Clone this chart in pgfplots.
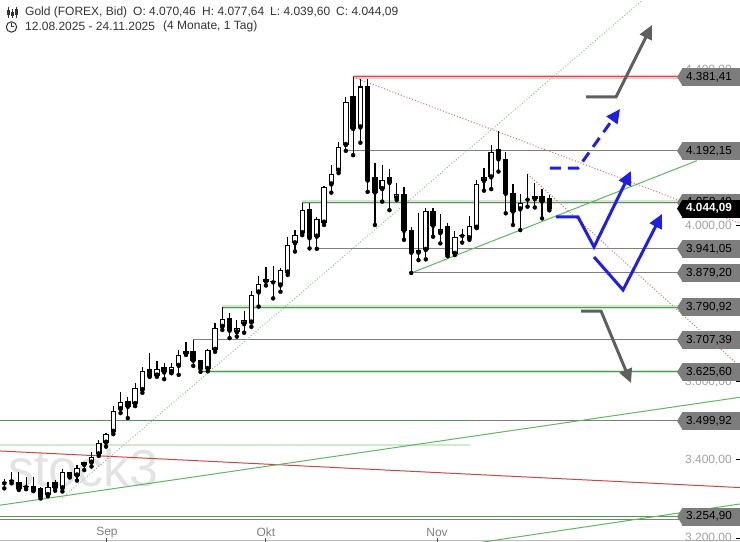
\documentclass[border=0pt]{standalone}
\usepackage{pgfplots}
\pgfplotsset{compat=1.18}
\usepackage{pgfplotstable}
\usetikzlibrary{arrows.meta}
\usepackage{fontspec}
\setmainfont{Liberation Sans}
\definecolor{lgray}{HTML}{7F7F7F}
\definecolor{labgray}{HTML}{7D7D7D}
\definecolor{tickgray}{HTML}{A0A0A0}
\definecolor{hred}{HTML}{E04848}
\definecolor{hredhalo}{HTML}{F6C4C4}
\definecolor{hgreen}{HTML}{4E9A4E}
\definecolor{hgreenhalo}{HTML}{CFE9CF}
\definecolor{dgreen}{HTML}{5DB85D}
\definecolor{dred}{HTML}{C84848}
\definecolor{dotgreen}{HTML}{8FBF8F}
\definecolor{dotred}{HTML}{CC6E6E}
\definecolor{arrgray}{HTML}{5F5F5F}
\definecolor{arrblue}{HTML}{1E1EE6}
\definecolor{hdr}{HTML}{333333}
\definecolor{wm}{HTML}{E3E3E3}

\pgfplotstableread{
i o h l c
0 3340 3350 3327 3341
1 3345 3368 3340 3346
2 3343 3370 3323 3325
3 3330 3355 3325 3331
4 3333 3355 3320 3321
5 3327 3331 3301 3304
6 3310 3344 3307 3331
7 3344 3348 3321 3327
8 3327 3376 3319 3368
9 3368 3370 3355 3356
10 3360 3387 3347 3380
11 3387 3395 3374 3394
12 3393 3420 3383 3407
13 3414 3451 3410 3443
14 3444 3470 3434 3466
15 3472 3538 3466 3525
16 3530 3575 3520 3548
17 3551 3561 3507 3536
18 3543 3596 3538 3584
19 3579 3639 3572 3628
20 3632 3675 3613 3614
21 3616 3654 3613 3632
22 3637 3649 3607 3624
23 3625 3649 3622 3639
24 3641 3682 3618 3668
25 3671 3703 3669 3679
26 3679 3707.39 3641 3654
27 3656 3657 3625.6 3633
28 3633 3684 3627 3682
29 3682 3750 3677 3737
30 3741 3790.92 3733 3760
31 3763 3777 3712 3731
32 3727 3759 3716 3737
33 3748 3782 3726 3758
34 3752 3833 3741 3823
35 3829 3872 3793 3850
36 3857 3895 3847 3863
37 3856 3897 3814 3855
38 3847 3891 3831 3887
39 3880 3970 3874 3951
40 3955 3989 3934 3976
41 3981 4059.4 3976 4040
42 4043 4059 3942 3968
43 3972 4022 3941.05 4017
44 4008 4103 4002 4100
45 4106 4156 4085 4132
46 4141 4214 4135 4201
47 4207 4331 4192.15 4317
48 4333 4381.41 4181 4248
49 4252 4376 4213 4357
50 4357 4375 4087 4116
51 4126 4162 4002 4085
52 4094 4156 4062 4117
53 4126 4145 4040 4110
54 4070 4109 4066 4081
55 4081 4099 3964 3987
56 3989 3996 3879.2 3931
57 3931 4032 3912 3938
58 3938 4045 3914 4038
59 4038 4045 3972 4000
60 3981 4030 3955 3991
61 4000 4006 3922 3924
62 3928 3987 3925 3971
63 3974 3991 3957 3975
64 3968 4025 3964 3999
65 3995 4117 3994 4106
66 4115 4147 4090 4124
67 4124 4207 4094 4190
68 4196 4244 4139 4170
69 4171 4190 4032 4082
70 4083 4107 4002 4036
71 4042 4081 3989 4058
72 4067 4133 4049 4069
73 4076 4109 4047 4068
74 4076 4094 4019 4062
75 4070.46 4077.64 4039.60 4044.09
}\candles

\newcommand{\lab}{\fontsize{11.7}{14}\selectfont}
\newcommand{\tk}{\fontsize{12}{14}\selectfont}
\newcommand{\pricelabel}[4]{%
  \fill[#3] (axis cs:93.3,#1) ++(0.3pt,9pt) -- ++(-5.6pt,-9pt) -- ++(5.6pt,-9pt) -- cycle;
  \node[anchor=west, fill=#3, text=#4, minimum height=18pt, text width=56pt, inner xsep=4pt, inner ysep=0pt, align=left, font=\lab] at (axis cs:93.26,#1) {#2};
}
\newcommand{\ytick}[2]{%
  \node[anchor=east, text=tickgray, inner sep=0, font=\tk] at (axis cs:100.14,#1) {#2};
  \draw[black, line width=0.8pt] (axis cs:100.69,#1) -- (axis cs:101.3,#1);
}
\newcommand{\xtick}[2]{%
  \node[text=black!50, inner sep=0, font=\tk] at (axis cs:#1,3214) {#2};
  \draw[black!70, line width=1pt] (axis cs:#1,3189.6) -- (axis cs:#1,3199.8);
}

\begin{document}
\begin{tikzpicture}
\begin{axis}[
  width=740pt, height=542pt, scale only axis,
  xmin=-0.5917, xmax=101.236, ymin=3189.6, ymax=4578.7,
  hide axis, clip=true,
]
% watermark
\node[anchor=base west, text=wm, inner sep=0, font=\fontsize{52}{60}\selectfont] at (rel axis cs:0.0108,0.1015) {stock3};

% horizontal levels
\addplot[hredhalo, line width=3.5pt] coordinates {(48,4381.41) (101.3,4381.41)};
\addplot[hred, line width=1pt] coordinates {(48,4381.41) (101.3,4381.41)};
\addplot[lgray, line width=1pt] coordinates {(47,4192.15) (101.3,4192.15)};
\addplot[hgreenhalo, line width=3.5pt] coordinates {(41,4061) (101.3,4061)};
\addplot[lgray, line width=1pt] coordinates {(41,4059.4) (101.3,4059.4)};
\addplot[lgray, line width=1pt] coordinates {(43,3941.05) (101.3,3941.05)};
\addplot[lgray, line width=1pt] coordinates {(56,3879.2) (101.3,3879.2)};
\addplot[hgreenhalo, line width=3.5pt] coordinates {(30,3792) (101.3,3792)};
\addplot[hgreen, line width=1pt] coordinates {(30,3790.92) (101.3,3790.92)};
\addplot[lgray, line width=1pt] coordinates {(26,3707.39) (101.3,3707.39)};
\addplot[hgreenhalo, line width=3.5pt] coordinates {(27,3627) (101.3,3627)};
\addplot[hgreen, line width=1pt] coordinates {(27,3625.6) (101.3,3625.6)};
\addplot[lgray, line width=1pt] coordinates {(-1,3499.92) (101.3,3499.92)};
\addplot[hgreen, line width=1pt] coordinates {(-1,3499.92) (64.1,3499.92)};
\addplot[hgreenhalo, line width=2pt] coordinates {(-1,3438) (64.1,3438)};
\addplot[hgreen, line width=1pt] coordinates {(-1,3254.9) (101.3,3254.9)};
\addplot[lgray, line width=1pt] coordinates {(-1,3248) (101.3,3248)};
\addplot[black!25, line width=1pt] coordinates {(-1,3193.2) (101.3,3193.2)};

% diagonal lines
\addplot[dred, line width=1pt] coordinates {(-0.5917,3422.9) (101.236,3329.1)};
\addplot[dgreen, line width=1pt] coordinates {(-0.5917,3283.9) (101.236,3560.5)};
\addplot[dgreen, line width=1pt] coordinates {(60,3173.2) (101.236,3287.1)};
\addplot[dgreen, line width=1pt] coordinates {(56,3879.2) (95.3,4166.8)};
\addplot[dotgreen, line width=1pt, dash pattern=on 1pt off 2pt] coordinates {(7.94,3302.4) (87.85,4578.7)};
\addplot[dotred, line width=1pt, dash pattern=on 1pt off 2pt] coordinates {(48,4381.41) (101.236,4006.4)};
\addplot[dotred, line width=1pt, dash pattern=on 1pt off 2pt] coordinates {(72,4132.8) (101.236,3638.9)};

% candles: wicks
\addplot[only marks, mark=none, error bars/.cd, y dir=plus, y explicit, error mark=none,
  error bar style={black, line width=1.2pt}]
  table[x=i, y=l, y error expr=\thisrow{h}-\thisrow{l}] {\candles};
% bodies
\addplot[only marks, mark=none, error bars/.cd, y dir=plus, y explicit, error mark=none,
  error bar style={black, line width=5.5pt}]
  table[x=i, y expr={min(\thisrow{o},\thisrow{c})}, y error expr={max(abs(\thisrow{c}-\thisrow{o}),2.5)}] {\candles};
\addplot[only marks, mark=none, restrict expr to domain={\thisrow{c}-\thisrow{o}}{5.5:100000},
  error bars/.cd, y dir=plus, y explicit, error mark=none,
  error bar style={white, line width=3.3pt}]
  table[x=i, y expr={\thisrow{o}+2.6}, y error expr={\thisrow{c}-\thisrow{o}-5.2}] {\candles};

% arrows
\addplot[arrgray, line width=3pt, -{Triangle[length=14pt,width=13pt]}] coordinates {(80.05,4330.1) (84.18,4330.1) (89.13,4514.6)};
\addplot[arrblue, line width=3pt, dash pattern=on 11pt off 7pt, -{Triangle[length=14pt,width=13pt]}] coordinates {(75.09,4148.1) (78.95,4148.1) (84.73,4299.3)};
\addplot[arrblue, line width=3pt, -{Triangle[length=14pt,width=13pt]}] coordinates {(75.92,4022.6) (78.95,4022.6) (81.15,3945.7) (86.24,4140.4)};
\addplot[arrblue, line width=3pt, -{Triangle[length=14pt,width=13pt]}] coordinates {(81.15,3920.0) (85.14,3835.5) (90.5,4030.2)};
\addplot[arrgray, line width=3pt, -{Triangle[length=14pt,width=13pt]}] coordinates {(79.36,3781.6) (82.11,3781.6) (86.24,3597.1)};

% right axis tick labels
\ytick{4400}{4.400,00}
\ytick{4000}{4.000,00}
\ytick{3800}{3.800,00}
\ytick{3600}{3.600,00}
\ytick{3400}{3.400,00}
\ytick{3200}{3.200,00}

% price labels
\pricelabel{4381.41}{4.381,41}{labgray}{black}
\pricelabel{4192.15}{4.192,15}{labgray}{black}
\pricelabel{4059.4}{4.059,40}{labgray}{black}
\pricelabel{3941.05}{3.941,05}{labgray}{black}
\pricelabel{3879.2}{3.879,20}{labgray}{black}
\pricelabel{3790.92}{3.790,92}{labgray}{black}
\pricelabel{3707.39}{3.707,39}{labgray}{black}
\pricelabel{3625.6}{3.625,60}{labgray}{black}
\pricelabel{3499.92}{3.499,92}{labgray}{black}
\pricelabel{3254.9}{3.254,90}{labgray}{black}
\pricelabel{4044.09}{\bfseries 4.044,09}{black}{white}

% x labels
\xtick{14.13}{Sep}
\xtick{36.0}{Okt}
\xtick{59.55}{Nov}

% header
\node[anchor=west, text=hdr, inner sep=0, font=\tk] at (rel axis cs:0.0338,0.9773) {Gold (FOREX, Bid)};
\node[anchor=west, text=hdr, inner sep=0, font=\tk] at (rel axis cs:0.1797,0.9773) {O: 4.070,46};
\node[anchor=west, text=hdr, inner sep=0, font=\tk] at (rel axis cs:0.2730,0.9773) {H: 4.077,64};
\node[anchor=west, text=hdr, inner sep=0, font=\tk] at (rel axis cs:0.3649,0.9773) {L: 4.039,60};
\node[anchor=west, text=hdr, inner sep=0, font=\tk] at (rel axis cs:0.4541,0.9773) {C: 4.044,09};
\node[anchor=west, text=hdr, inner sep=0, font=\tk] at (rel axis cs:0.0338,0.9507) {12.08.2025 - 24.11.2025};
\node[anchor=west, text=hdr, inner sep=0, font=\tk] at (rel axis cs:0.2203,0.9507) {(4 Monate, 1 Tag)};
% icons
\draw[hdr, line width=0.9pt] (rel axis cs:0,1) ++(8.5pt,-7pt) -- ++(0pt,-11pt);
\draw[hdr, line width=0.9pt] (rel axis cs:0,1) ++(12.5pt,-9pt) -- ++(0pt,-9pt);
\draw[hdr, line width=0.9pt] (rel axis cs:0,1) ++(16.5pt,-7pt) -- ++(0pt,-11pt);
\fill[hdr] (rel axis cs:0,1) ++(7.3pt,-10pt) rectangle ++(2.4pt,-5pt);
\fill[hdr] (rel axis cs:0,1) ++(11.3pt,-12pt) rectangle ++(2.4pt,-4pt);
\fill[hdr] (rel axis cs:0,1) ++(15.3pt,-9pt) rectangle ++(2.4pt,-6pt);
\draw[hdr, line width=1pt] (rel axis cs:0,1) ++(11.5pt,-27pt) circle (5.2pt);
\draw[hdr, line width=1pt] (rel axis cs:0,1) ++(11.5pt,-23.5pt) -- ++(0pt,-3.5pt) -- ++(2.6pt,0pt);
\end{axis}
\pgfresetboundingbox
\path[use as bounding box] (current axis.south west) rectangle (current axis.north east);
\end{tikzpicture}
\end{document}
